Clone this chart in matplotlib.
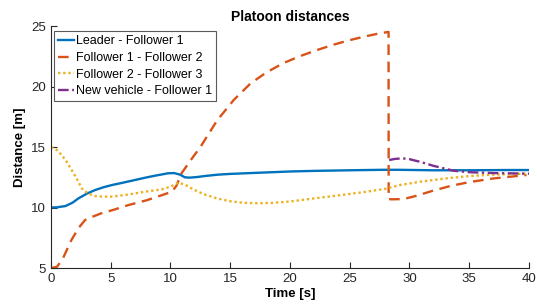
import matplotlib
matplotlib.use("Agg")
import matplotlib.pyplot as plt

plt.rcParams['font.family'] = ['Liberation Sans', 'DejaVu Sans']

# Leader - Follower 1
t_lf1 = [0, 0.5, 1.2, 1.8, 2.3, 3.0, 3.7, 4.4, 5.1, 6.0, 7.0, 7.9, 8.8, 9.8, 10.3, 10.8, 11.2, 11.6, 12.2, 13.0, 14.0, 15.0, 16.7, 18.0, 20.0, 22.0, 25.0, 27.8, 29.0, 30.5, 32.0, 35.0, 38.0, 40.0]
d_lf1 = [10.0, 10.02, 10.12, 10.4, 10.76, 11.15, 11.45, 11.68, 11.86, 12.05, 12.27, 12.47, 12.65, 12.83, 12.85, 12.72, 12.5, 12.47, 12.52, 12.62, 12.72, 12.78, 12.85, 12.9, 12.98, 13.03, 13.08, 13.12, 13.12, 13.1, 13.08, 13.08, 13.1, 13.1]

# Follower 1 - Follower 2
t_f12 = [0, 0.5, 1.0, 1.7, 2.3, 2.85, 3.5, 4.2, 5.2, 6.5, 8.0, 9.3, 10.1, 10.5, 10.9, 11.9, 12.5, 13.9, 15.3, 16.7, 18.0, 19.4, 20.8, 22.2, 23.6, 25.0, 26.3, 27.5, 28.25, 28.26, 28.5, 29.5, 30.5, 32.0, 33.5, 35.0, 37.0, 39.8]
d_f12 = [5.0, 5.1, 5.8, 7.3, 8.3, 8.97, 9.25, 9.52, 9.8, 10.21, 10.6, 11.03, 11.3, 11.8, 12.8, 14.2, 15.0, 17.2, 18.9, 20.26, 21.15, 21.92, 22.5, 23.0, 23.45, 23.84, 24.15, 24.4, 24.52, 10.7, 10.68, 10.7, 10.95, 11.4, 11.8, 12.1, 12.4, 12.69]

# Follower 2 - Follower 3
t_f23 = [0, 0.5, 0.9, 1.3, 1.73, 2.2, 2.57, 3.1, 3.68, 4.3, 5.08, 6.5, 7.87, 9.26, 10.0, 10.65, 11.2, 11.9, 12.8, 13.87, 15.0, 16.0, 17.2, 18.5, 20.0, 22.0, 24.0, 26.0, 28.0, 29.2, 31.0, 33.0, 35.0, 37.0, 40.0]
d_f23 = [15.0, 14.75, 14.34, 13.8, 13.1, 12.3, 11.59, 11.15, 10.95, 10.9, 10.9, 11.08, 11.31, 11.5, 11.72, 12.05, 11.9, 11.5, 11.1, 10.76, 10.52, 10.4, 10.35, 10.38, 10.5, 10.75, 11.0, 11.25, 11.55, 11.86, 12.15, 12.4, 12.6, 12.72, 12.8]

# New vehicle - Follower 1
t_nf1 = [28.3, 28.8, 29.4, 30.0, 31.0, 32.0, 33.7, 35.0, 37.0, 40.0]
d_nf1 = [13.93, 14.02, 14.07, 14.0, 13.75, 13.45, 13.04, 12.92, 12.85, 12.8]

labels = ["Leader - Follower 1", "Follower 1 - Follower 2",
          "Follower 2 - Follower 3", "New vehicle - Follower 1"]

fig = plt.figure(figsize=(5.37, 3.07), dpi=100)
ax = fig.add_axes([0.095, 0.127, 0.89, 0.788])

lw = 1.7
ax.plot(t_lf1, d_lf1, color='#0072BD', lw=lw, label=labels[0])
ax.plot(t_f12, d_f12, color='#D95319', lw=lw, dashes=(4.5, 2.8), label=labels[1])
ax.plot(t_f23, d_f23, color='#EDB120', lw=lw, dashes=(1, 1.2), label=labels[2])
ax.plot(t_nf1, d_nf1, color='#7E2F8E', lw=lw, dashes=(4.5, 1.5, 1, 1.5), label=labels[3])

ax.set_xlim(0, 40)
ax.set_ylim(5, 25)
ax.set_xticks([0, 5, 10, 15, 20, 25, 30, 35, 40])
ax.set_yticks([5, 10, 15, 20, 25])
ax.spines['top'].set_visible(False)
ax.spines['right'].set_visible(False)
for s in ('left', 'bottom'):
    ax.spines[s].set_color('#262626')
    ax.spines[s].set_linewidth(0.8)
ax.tick_params(direction='in', labelsize=9.5, colors='#262626', length=4, width=0.8)

ax.set_title("Platoon distances", fontsize=10, fontweight='bold', pad=4)
ax.set_xlabel("Time [s]", fontsize=9.5, fontweight='bold', labelpad=2)
ax.set_ylabel("Distance [m]", fontsize=9.5, fontweight='bold', labelpad=4)

leg = ax.legend(loc='upper left', bbox_to_anchor=(0.006, 0.978), fontsize=9,
                handlelength=1.3, handletextpad=0.15, borderpad=0.3,
                labelspacing=0.38, fancybox=False, framealpha=1,
                borderaxespad=0.0)
leg.get_frame().set_edgecolor('#5a5a5a')
leg.get_frame().set_linewidth(0.8)

fig.savefig("out.png", dpi=100)
